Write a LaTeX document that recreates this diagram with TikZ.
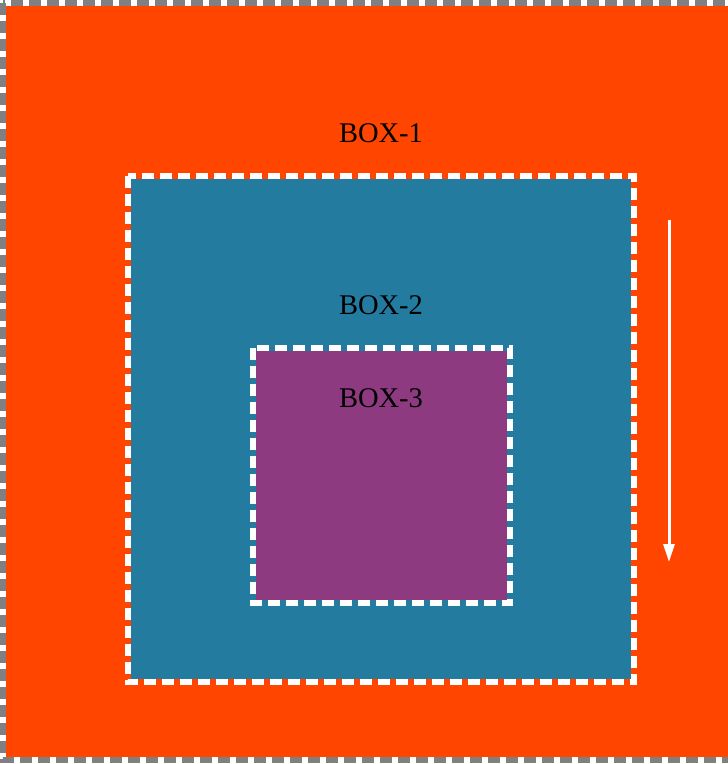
\documentclass[tikz,border=0pt]{standalone}
\usepackage{fontspec}
\setmainfont{Liberation Serif}
\usetikzlibrary{arrows.meta,calc,positioning}
\definecolor{BoxOrange}{HTML}{FF4500}
\definecolor{BoxTeal}{HTML}{247BA0}
\definecolor{BoxPurple}{HTML}{8E3A80}
\definecolor{BoxGray}{HTML}{808080}

\begin{document}
\begin{tikzpicture}[
  x=1pt, y=-1pt,
  font=\fontsize{28.5}{34}\selectfont,
  box/.style={inner sep=0pt, outer sep=0pt, draw=none},
  rim/.style={line width=6pt, dash pattern=on 12pt off 6pt},
  boxlabel/.style={anchor=base, inner sep=0pt, text=black},
  arr/.style={-{Triangle[length=18pt,width=11pt]}, line width=3pt, draw=white}
]
\useasboundingbox (0,0) rectangle (728,764);
\clip (0,0) rectangle (728,764);
\fill[white] (0,0) rectangle (728,764);
% boxes, each rim sits just outside its fill
\node[box, fill=BoxOrange, minimum width=750pt, minimum height=751pt] (b1) at (381,381.5) {};
\draw[rim, draw=BoxGray] ([shift={(-3pt,3pt)}]b1.north west) rectangle ([shift={(3pt,-3pt)}]b1.south east);
\node[box, fill=BoxTeal, minimum width=500pt, minimum height=500pt] (b2) at (381,429) {};
\draw[rim, draw=white] ([shift={(-3pt,3pt)}]b2.north west) rectangle ([shift={(3pt,-3pt)}]b2.south east);
\node[box, fill=BoxPurple, minimum width=251pt, minimum height=249pt] (b3) at (381.5,475.5) {};
\draw[rim, draw=white] ([shift={(-3pt,3pt)}]b3.north west) rectangle ([shift={(3pt,-3pt)}]b3.south east);
% labels
\node[boxlabel] (t1) at (381,142) {BOX-1};
\node[boxlabel] (t2) at (381,314) {BOX-2};
\node[boxlabel] (t3) at (381,407) {BOX-3};
% arrow
\coordinate (arrtop) at (669,220);
\coordinate (arrend) at (669,562);
\draw[arr] (arrtop) -- (arrend);
\end{tikzpicture}
\end{document}
